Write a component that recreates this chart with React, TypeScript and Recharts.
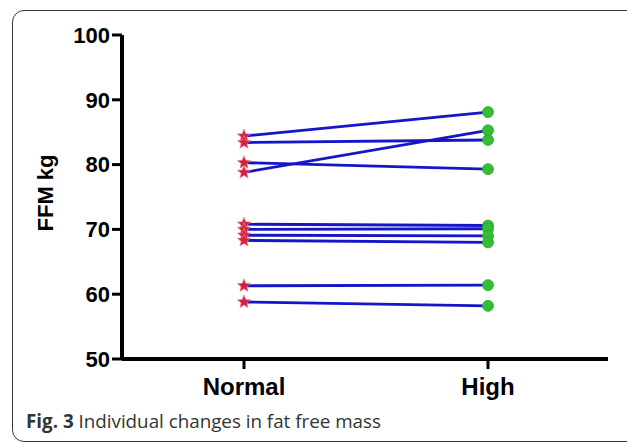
import { Label, Line, LineChart, XAxis, YAxis } from 'recharts';

// FFM (kg) per subject under each condition
const groups = ['Normal', 'High'];
const normalValues = [84.4, 83.4, 80.3, 78.8, 70.8, 70.0, 69.1, 68.3, 61.3, 58.8];
const highValues = [88.1, 83.8, 79.3, 85.3, 70.6, 70.1, 69.0, 68.0, 61.4, 58.2];
const yTicks = [50, 60, 70, 80, 90, 100];

const LINE_COLOR = '#1515c9';
const STAR_COLOR = '#d2203e';
const CIRCLE_COLOR = '#36bd36';

const data = groups.map((group, gi) => {
  const row: Record<string, number | string> = { group };
  const values = gi === 0 ? normalValues : highValues;
  values.forEach((v, i) => {
    row[`s${i}`] = v;
  });
  return row;
});

function starPath(cx: number, cy: number, outer: number, inner: number) {
  const pts: string[] = [];
  for (let k = 0; k < 10; k++) {
    const r = k % 2 === 0 ? outer : inner;
    const a = -Math.PI / 2 + (k * Math.PI) / 5;
    pts.push(`${cx + r * Math.cos(a)},${cy + r * Math.sin(a)}`);
  }
  return `M${pts.join('L')}Z`;
}

function Marker(props: any) {
  const { cx, cy, index, key } = props;
  if (cx == null || cy == null) return null;
  if (index === 0) {
    return (
      <path
        key={key}
        d={starPath(cx, cy, 7, 3)}
        fill={STAR_COLOR}
        stroke="#ee8899"
        strokeWidth={0.6}
      />
    );
  }
  return <circle key={key} cx={cx} cy={cy} r={5.5} fill={CIRCLE_COLOR} stroke="#2aa82a" strokeWidth={0.8} />;
}

export default function App() {
  return (
    <div
      style={{
        position: 'absolute',
        left: 0,
        top: 0,
        width: 627,
        height: 442,
        overflow: 'hidden',
        background: '#fff',
      }}
    >
      <div
        style={{
          position: 'absolute',
          left: 12,
          top: 10,
          width: 720,
          height: 430,
          border: '1.5px solid #3a3a3a',
          borderRadius: 12,
        }}
      />
      <LineChart
        width={627}
        height={442}
        data={data}
        margin={{ top: 35, right: 19, bottom: 43, left: 0 }}
      >
        <XAxis
          dataKey="group"
          padding={{ left: 122, right: 120 }}
          height={40}
          axisLine={{ stroke: '#000', strokeWidth: 4 }}
          tickLine={{ stroke: '#000', strokeWidth: 3 }}
          tickSize={10}
          tickMargin={9}
          tick={{ fill: '#000', fontSize: 24, fontWeight: 'bold', fontFamily: 'Liberation Sans, Arial, sans-serif' }}
        />
        <YAxis
          type="number"
          domain={[50, 100]}
          ticks={yTicks}
          width={122}
          interval={0}
          axisLine={{ stroke: '#000', strokeWidth: 4 }}
          tickLine={{ stroke: '#000', strokeWidth: 3 }}
          tickSize={10}
          tickMargin={2}
          tick={{ fill: '#000', fontSize: 22, fontWeight: 'bold', fontFamily: 'Liberation Sans, Arial, sans-serif' }}
        >
          <Label
            value="FFM kg"
            angle={-90}
            position="center"
            dx={-16}
            dy={-4}
            style={{ fill: '#000', fontSize: 22, fontWeight: 'bold', fontFamily: 'Liberation Sans, Arial, sans-serif' }}
          />
        </YAxis>
        {normalValues.map((_, i) => (
          <Line
            key={i}
            dataKey={`s${i}`}
            type="linear"
            stroke={LINE_COLOR}
            strokeWidth={2.8}
            dot={Marker}
            activeDot={false}
            isAnimationActive={false}
          />
        ))}
      </LineChart>
      <div
        style={{
          position: 'absolute',
          left: 26,
          top: 408,
          fontFamily: '"Open Sans", sans-serif',
          fontSize: 18.8,
          color: '#333',
          whiteSpace: 'nowrap',
        }}
      >
        <b>Fig. 3</b> Individual changes in fat free mass
      </div>
    </div>
  );
}
